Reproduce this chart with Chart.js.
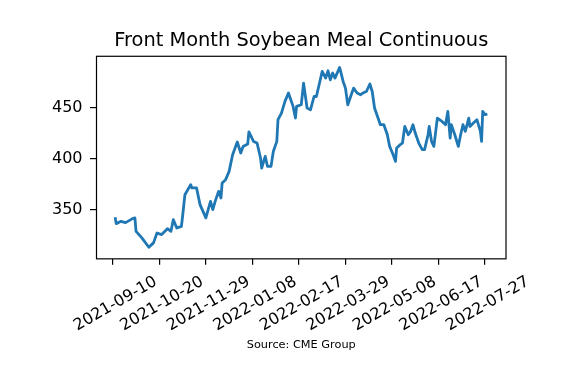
<!DOCTYPE html>
<html>
<head>
<meta charset="utf-8">
<script src="https://cdn.jsdelivr.net/npm/chart.js@4"></script>
<style>
  html, body { margin: 0; padding: 0; background: #fff; }
  #wrap { width: 567px; height: 366px; }
</style>
</head>
<body>
<div id="wrap"><canvas id="myChart" width="567" height="366"></canvas></div>
<script>
// days since 2021-09-10 and settle prices
var startDate = Date.UTC(2021, 8, 10);
var days = [2,3,7,11,17,19,20,25,31,35,38,42,47,50,52,55,59,60,62,67,68,72,75,80,84,86,88,91,93,94,
  97,100,103,107,110,112,116,117,121,124,127,128,131,133,136,138,141,142,145,148,151,153,155,157,158,
  162,164,167,170,173,175,178,180,183,185,187,189,191,195,198,200,202,204,207,210,213,215,218,221,223,
  225,228,230,233,236,238,241,243,244,247,249,251,254,256,258,260,263,266,268,271,272,274,276,279,283,
  286,288,290,291,294,297,299,301,303,306,307,310,313,316,317,318,320,322];
var prices = [342.6,336.4,338.7,337.4,341.3,342,328.9,322.5,313.3,317.6,327.3,325.7,331.5,328.9,340.3,
  332.2,333.8,343.6,364.7,374.5,371.3,371.3,355,342,358.2,350.1,358.2,368,361.5,376.2,379.4,387.5,403.8,
  416.2,405.5,411.9,414.3,426,416.8,415.2,400.6,390.8,402.1,392.4,392.4,407,416.8,438,444.5,455.9,464.1,
  457.5,451,439.6,451,452.6,473.8,449.4,447.8,460.7,460.7,475.4,485.2,478.7,485.8,477,483.6,478.7,489.1,
  475.4,468.9,452.6,459.2,468.9,464.1,462.4,464.1,465.6,472.9,465.6,449.4,439.6,433.1,433.1,423.3,411.9,
  403.8,397.3,410.4,413.6,415.2,431.4,423.3,426.6,433.1,425,415.2,408.7,408.7,423.3,431.4,416.8,411.9,
  439.6,436.3,433.1,446.1,420.1,433.1,423.3,411.9,423.3,433.1,426.6,439.6,431.4,434.8,438,426.6,416.8,
  446.1,442.9,443.6];
var xTicks = [0, 40, 80, 120, 160, 200, 240, 280, 320];
var yTicks = [350, 400, 450];

var points = days.map(function(d, i) { return {x: d, y: prices[i]}; });

function dayLabel(d) {
  return new Date(startDate + d * 86400000).toISOString().slice(0, 10);
}

Chart.defaults.font.family = "'DejaVu Sans', sans-serif";
Chart.defaults.color = '#000';

// black box round the plot area, like matplotlib spines
var frame = {
  id: 'frame',
  afterDatasetsDraw: function(chart) {
    var a = chart.chartArea, ctx = chart.ctx;
    ctx.save();
    ctx.strokeStyle = '#000';
    ctx.lineWidth = 1.2;
    ctx.strokeRect(a.left, a.top, a.right - a.left, a.bottom - a.top);
    ctx.restore();
  }
};

new Chart("myChart", {
  type: "line",
  data: {
    datasets: [{
      data: points,
      borderColor: "#1f77b4",
      borderWidth: 2.8,
      borderJoinStyle: "round",
      pointRadius: 0,
      tension: 0,
      fill: false
    }]
  },
  options: {
    responsive: false,
    animation: false,
    layout: { padding: { left: 0, right: 61, top: 0, bottom: 0 } },
    plugins: {
      legend: { display: false },
      tooltip: { enabled: false },
      title: {
        display: true,
        text: "Front Month Soybean Meal Continuous",
        fullSize: false,
        font: { size: 19.4, weight: "normal" },
        color: "#000",
        padding: { top: 29, bottom: 4 }
      },
      subtitle: {
        display: true,
        position: "bottom",
        text: "Source: CME Group",
        fullSize: false,
        font: { size: 11.3, weight: "normal" },
        color: "#000",
        padding: { top: 0, bottom: 14 }
      }
    },
    scales: {
      x: {
        type: "linear",
        min: -14,
        max: 338,
        afterFit: function(scale) { scale.height = 79.6; },
        afterBuildTicks: function(scale) {
          scale.ticks = xTicks.map(function(v) { return {value: v}; });
        },
        ticks: {
          callback: function(v) { return dayLabel(v); },
          autoSkip: false,
          minRotation: 30,
          maxRotation: 30,
          labelOffset: 43,
          padding: 7.5,
          font: { size: 16 }
        },
        grid: { drawOnChartArea: false, drawTicks: true, tickLength: 6, color: "#000", lineWidth: 1.2 },
        border: { display: false }
      },
      y: {
        min: 302,
        max: 500,
        afterFit: function(scale) { scale.width = 96.5; },
        afterBuildTicks: function(scale) {
          scale.ticks = yTicks.map(function(v) { return {value: v}; });
        },
        ticks: { padding: 7.5, font: { size: 16 } },
        grid: { drawOnChartArea: false, drawTicks: true, tickLength: 6.5, color: "#000", lineWidth: 1.2 },
        border: { display: false }
      }
    }
  },
  plugins: [frame]
});
</script>
</body>
</html>
